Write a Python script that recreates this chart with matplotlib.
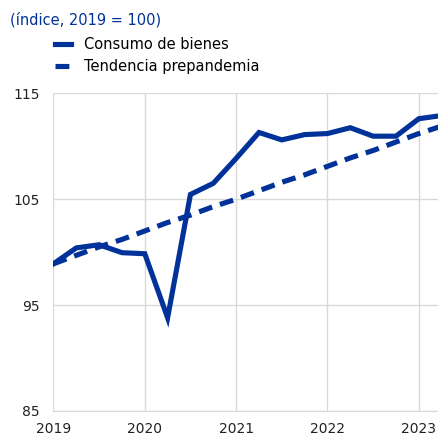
import numpy as np
import matplotlib.pyplot as plt

# Data (quarterly, index 2019 = 100)
quarters = [2019.0, 2019.25, 2019.5, 2019.75, 2020.0, 2020.25, 2020.5, 2020.75,
            2021.0, 2021.25, 2021.5, 2021.75, 2022.0, 2022.25, 2022.5, 2022.75,
            2023.0, 2023.25]
consumo = [98.9, 100.4, 100.7, 99.95, 99.85, 93.8, 105.45, 106.5,
           108.85, 111.3, 110.6, 111.1, 111.2, 111.75, 110.95, 110.95,
           112.6, 112.9]
tendencia = [98.9, 99.7, 100.5, 101.2, 102.0, 102.8, 103.5, 104.3,
             105.0, 105.8, 106.6, 107.3, 108.1, 108.9, 109.6, 110.4,
             111.2, 111.9]
year_ticks = [2019, 2020, 2021, 2022, 2023]
y_ticks = [85, 95, 105, 115]

BLUE = '#003299'
GRID = '#d9d9d9'

fig = plt.figure(figsize=(4.38, 4.37), dpi=100)
ax = fig.add_axes([0.122, 0.0595, 0.878, 0.727])

ax.plot(quarters, consumo, color=BLUE, lw=3.7, solid_joinstyle='miter',
        label='Consumo de bienes', zorder=3)
ax.plot(quarters, tendencia, color=BLUE, lw=3.7, dashes=(2.7, 1.6),
        label='Tendencia prepandemia', zorder=3)

ax.set_xlim(2019, 2023.21)
ax.set_ylim(85, 115)
ax.set_xticks(year_ticks)
ax.set_xticklabels([str(y) for y in year_ticks])
ax.set_yticks(y_ticks)
ax.grid(True, color=GRID, lw=1.0)
ax.set_axisbelow(True)
for s in ['top', 'right', 'left']:
    ax.spines[s].set_visible(False)
ax.spines['bottom'].set_color(GRID)
ax.tick_params(length=0, labelsize=10, colors='#222222', pad=10)
ax.tick_params(axis='x', pad=8)

fig.text(0.023, 0.955, '(índice, 2019 = 100)', color=BLUE, fontsize=10.5,
         va='center', ha='left')
fig.legend(loc='upper left', bbox_to_anchor=(0.125, 0.915), frameon=False,
           fontsize=10.5, handlelength=1.1, handletextpad=0.9,
           labelspacing=0.45, borderaxespad=0, borderpad=0)

fig.savefig('out.png', dpi=100)
